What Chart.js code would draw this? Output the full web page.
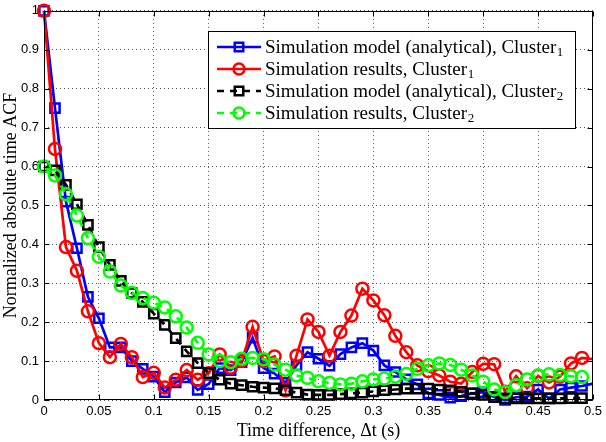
<!DOCTYPE html>
<html>
<head>
<meta charset="utf-8">
<script src="https://cdn.jsdelivr.net/npm/chart.js@4.4.0/dist/chart.umd.min.js"></script>
<style>
  html, body { margin: 0; padding: 0; background: #fff; }
  #wrap { width: 606px; height: 442px; }
</style>
</head>
<body>
<div id="wrap"><canvas id="acf" width="606" height="442"></canvas></div>
<script>
// time lag (s)
const times = [0, 0.01, 0.02, 0.03, 0.04, 0.05, 0.06, 0.07, 0.08, 0.09,
  0.10, 0.11, 0.12, 0.13, 0.14, 0.15, 0.16, 0.17, 0.18, 0.19,
  0.20, 0.21, 0.22, 0.23, 0.24, 0.25, 0.26, 0.27, 0.28, 0.29,
  0.30, 0.31, 0.32, 0.33, 0.34, 0.35, 0.36, 0.37, 0.38, 0.39,
  0.40, 0.41, 0.42, 0.43, 0.44, 0.45, 0.46, 0.47, 0.48, 0.49, 0.50];

// analytical model, cluster 1
const modelC1 = [1.0, 0.75, 0.51, 0.39, 0.265, 0.21, 0.135, 0.135, 0.10, 0.08,
  0.06, 0.02, 0.045, 0.058, 0.026, 0.041, 0.082, 0.077, 0.097, 0.16,
  0.082, 0.068, 0.044, 0.089, 0.123, 0.106, 0.088, 0.118, 0.135, 0.146,
  0.127, 0.089, 0.072, 0.053, 0.04, 0.017, 0.013, 0.006, 0.01, 0.017,
  0.02, 0.008, 0.0, 0.007, 0.009, 0.027, 0.004, 0.027, 0.032, 0.036, 0.042];

// simulation results, cluster 1
const simC1 = [1.0, 0.645, 0.393, 0.332, 0.228, 0.146, 0.11, 0.144, 0.11, 0.059,
  0.07, 0.032, 0.052, 0.077, 0.052, 0.069, 0.117, 0.083, 0.10, 0.188,
  0.10, 0.112, 0.025, 0.114, 0.207, 0.175, 0.114, 0.175, 0.217, 0.286,
  0.256, 0.218, 0.165, 0.123, 0.089, 0.074, 0.063, 0.047, 0.042, 0.072,
  0.093, 0.092, 0.021, 0.061, 0.03, 0.062, 0.045, 0.06, 0.094, 0.108, 0.105];

// analytical model, cluster 2
const modelC2 = [0.60, 0.59, 0.553, 0.503, 0.45, 0.393, 0.347, 0.306, 0.275, 0.252,
  0.222, 0.193, 0.159, 0.125, 0.095, 0.069, 0.052, 0.042, 0.038, 0.034,
  0.032, 0.03, 0.025, 0.019, 0.014, 0.013, 0.013, 0.015, 0.017, 0.019,
  0.022, 0.025, 0.027, 0.029, 0.029, 0.029, 0.027, 0.025, 0.021, 0.017,
  0.013, 0.007, 0.004, 0.004, 0.004, 0.004, 0.004, 0.004, 0.005, 0.005, null];

// simulation results, cluster 2
const simC2 = [0.60, 0.577, 0.529, 0.474, 0.416, 0.368, 0.33, 0.294, 0.275, 0.262,
  0.25, 0.238, 0.215, 0.186, 0.147, 0.117, 0.10, 0.097, 0.106, 0.108,
  0.105, 0.091, 0.078, 0.063, 0.057, 0.048, 0.044, 0.040, 0.042, 0.048,
  0.053, 0.055, 0.06, 0.067, 0.08, 0.089, 0.094, 0.09, 0.078, 0.063,
  0.047, 0.027, 0.02, 0.038, 0.053, 0.063, 0.066, 0.064, 0.061, 0.059, null];

const seriesNames = [
  'Simulation model (analytical), Cluster\u2081',
  'Simulation results, Cluster\u2081',
  'Simulation model (analytical), Cluster\u2082',
  'Simulation results, Cluster\u2082'
];
const xTickLabels = ['0', '0.05', '0.1', '0.15', '0.2', '0.25', '0.3', '0.35', '0.4', '0.45', '0.5'];
const yTickLabels = ['0', '0.1', '0.2', '0.3', '0.4', '0.5', '0.6', '0.7', '0.8', '0.9', '1'];

const SERIF = '"Liberation Serif", "Times New Roman", serif';
const SANS = '"Liberation Sans", Arial, sans-serif';

function pts(vals){ return times.map((t, i) => ({ x: t, y: vals[i] })); }
// no marker on the last sample sitting on the right border
const rad = r => c => (c.raw && c.raw.x >= 0.5 ? 0 : r);

function series(label, vals, color, style, dash, order){
  const r = style === 'rect' ? 6.5 : 6;
  return {
    label, data: pts(vals), order,
    borderColor: color, borderWidth: 2.7, borderDash: dash,
    pointStyle: style, pointRadius: rad(r), pointHoverRadius: rad(r),
    pointBorderColor: color, pointBackgroundColor: 'rgba(0,0,0,0)', pointBorderWidth: 2.5,
    tension: 0, clip: false, spanGaps: false
  };
}

// axes box + inward ticks (matlab style)
const frame = {
  id: 'frame',
  afterDraw(chart){
    const { ctx, chartArea: a, scales: { x, y } } = chart;
    ctx.save();
    ctx.setLineDash([]);
    ctx.strokeStyle = '#000';
    ctx.lineWidth = 1;
    const L = Math.round(a.left) + 0.5, R = Math.round(a.right) - 0.5;
    const T = Math.round(a.top) + 0.5, B = Math.round(a.bottom) - 0.5;
    ctx.strokeRect(L, T, R - L, B - T);
    ctx.beginPath();
    x.ticks.forEach(t => {
      const px = Math.round(x.getPixelForValue(t.value)) + 0.5;
      ctx.moveTo(px, B); ctx.lineTo(px, B - 5);
      ctx.moveTo(px, T); ctx.lineTo(px, T + 5);
    });
    y.ticks.forEach(t => {
      const py = Math.round(y.getPixelForValue(t.value)) + 0.5;
      ctx.moveTo(L, py); ctx.lineTo(L + 5, py);
      ctx.moveTo(R, py); ctx.lineTo(R - 5, py);
    });
    ctx.stroke();
    ctx.restore();
  }
};

// boxed legend inside the axes, top right
const SUBS = '\u2080\u2081\u2082\u2083\u2084\u2085\u2086\u2087\u2088\u2089';
const boxLegend = {
  id: 'boxLegend',
  afterDraw(chart){
    const { ctx, chartArea: a } = chart;
    const sets = chart.data.datasets;
    const font = '19px ' + SERIF, subFont = '13px ' + SERIF;
    ctx.save();
    const parts = sets.map(ds => {
      const last = ds.label.slice(-1);
      const k = SUBS.indexOf(last);
      return k >= 0 ? [ds.label.slice(0, -1), String(k)] : [ds.label, ''];
    });
    let textW = 0;
    parts.forEach(p => {
      ctx.font = font; let w = ctx.measureText(p[0]).width;
      ctx.font = subFont; w += ctx.measureText(p[1]).width;
      textW = Math.max(textW, w);
    });
    const w = Math.round(57 + textW + 12), h = 97;
    const right = Math.round(a.right) - 18, top = Math.round(a.top) + 20;
    const left = right - w;
    ctx.fillStyle = '#fff';
    ctx.fillRect(left, top, w, h);
    ctx.strokeStyle = '#000'; ctx.lineWidth = 1; ctx.setLineDash([]);
    ctx.strokeRect(left + 0.5, top + 0.5, w, h);

    sets.forEach((ds, i) => {
      const cy = top + 16 + i * 22;
      ctx.save();
      ctx.strokeStyle = ds.borderColor; ctx.lineWidth = ds.borderWidth;
      ctx.setLineDash(ds.borderDash || []);
      ctx.beginPath(); ctx.moveTo(left + 9, cy); ctx.lineTo(left + 53, cy); ctx.stroke();
      ctx.setLineDash([]);
      ctx.strokeStyle = ds.pointBorderColor; ctx.fillStyle = ds.pointBackgroundColor;
      ctx.lineWidth = ds.pointBorderWidth;
      Chart.helpers.drawPoint(ctx, { pointStyle: ds.pointStyle, radius: ds.pointStyle === 'rect' ? 6 : 5.5, rotation: 0, borderWidth: ds.pointBorderWidth }, left + 31, cy);
      ctx.restore();
      ctx.fillStyle = '#000'; ctx.textBaseline = 'middle'; ctx.textAlign = 'left';
      ctx.font = font;
      ctx.fillText(parts[i][0], left + 57, cy + 1);
      const tw = ctx.measureText(parts[i][0]).width;
      ctx.font = subFont;
      ctx.fillText(parts[i][1], left + 57 + tw + 0.5, cy + 6);
    });
    ctx.restore();
  }
};

new Chart(document.getElementById('acf'), {
  type: 'line',
  data: {
    datasets: [
      series(seriesNames[0], modelC1, '#0000ff', 'rect', [], 4),
      series(seriesNames[1], simC1, '#ff0000', 'circle', [], 3),
      series(seriesNames[2], modelC2, '#000000', 'rect', [7, 6], 2),
      series(seriesNames[3], simC2, '#00ff00', 'circle', [7, 6], 1)
    ]
  },
  options: {
    responsive: false,
    devicePixelRatio: 1,
    animation: false,
    layout: { padding: { top: 6, right: 12, left: 0, bottom: 0 } },
    plugins: { legend: { display: false }, tooltip: { enabled: false } },
    scales: {
      x: {
        type: 'linear', min: 0, max: 0.5,
        afterFit: s => { s.height = 42; },
        grid: { color: '#555', lineWidth: 1, drawTicks: false },
        border: { display: false, dash: [1, 3] },
        ticks: {
          stepSize: 0.05, padding: 4, color: '#000', maxRotation: 0, autoSkip: false,
          font: { family: SANS, size: 13 },
          callback: (v, i) => xTickLabels[i]
        },
        title: { display: true, text: 'Time difference, \u0394t (s)', color: '#000', padding: 0, font: { family: SERIF, size: 18 } }
      },
      y: {
        type: 'linear', min: 0, max: 1,
        afterFit: s => { s.width = 44; },
        grid: { color: '#555', lineWidth: 1, drawTicks: false },
        border: { display: false, dash: [1, 3] },
        ticks: {
          stepSize: 0.1, padding: 5, color: '#000', autoSkip: false,
          font: { family: SANS, size: 13, lineHeight: 0.9 },
          callback: (v, i) => yTickLabels[i]
        },
        title: { display: true, text: 'Normalized absolute time ACF', color: '#000', padding: 0, font: { family: SERIF, size: 18, lineHeight: 1.3 } }
      }
    }
  },
  plugins: [frame, boxLegend]
});
</script>
</body>
</html>
